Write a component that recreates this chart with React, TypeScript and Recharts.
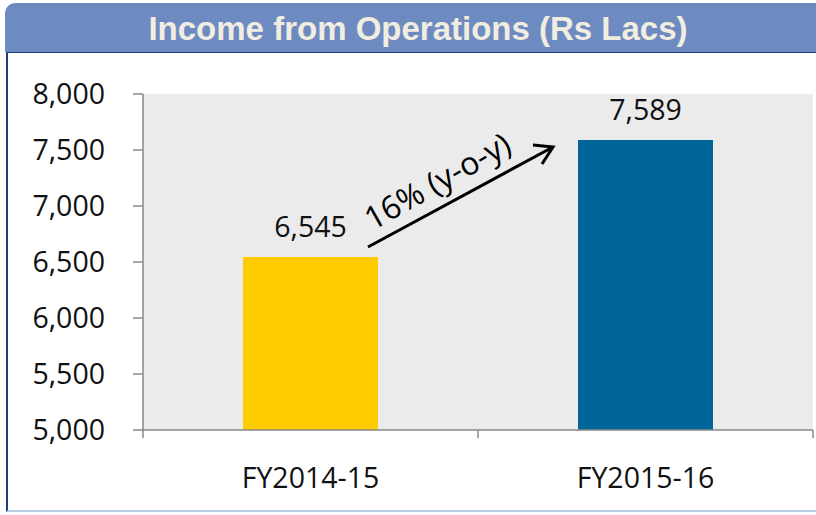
import React from 'react';
import { BarChart, Bar, XAxis, YAxis, CartesianGrid, Cell, LabelList } from 'recharts';

const categories = ['FY2014-15', 'FY2015-16'];
const income = [6545, 7589];
const barColors = ['#ffcc00', '#006699'];
const yTicks = [5000, 5500, 6000, 6500, 7000, 7500, 8000];
const growthLabel = '16% (y-o-y)';

const data = categories.map((c, i) => ({ name: c, value: income[i] }));

const W = 816;
const H = 515;
const M = { top: 94, right: 3, bottom: 0, left: 0 };
const Y_W = 143;
const X_H = 85;
const band = (W - M.left - M.right - Y_W) / categories.length;
const font = '"Open Sans", "Noto Sans", sans-serif';

const fmt = (v: number) => v.toLocaleString('en-US');

function XTick(props: any) {
  const { x, y, payload, index } = props;
  return (
    <g>
      <line x1={x - band / 2} x2={x - band / 2} y1={y} y2={y + 8} stroke="#888" strokeWidth={1.5} />
      {index === categories.length - 1 && (
        <line x1={x + band / 2} x2={x + band / 2} y1={y} y2={y + 8} stroke="#888" strokeWidth={1.5} />
      )}
      <text x={x} y={y + 58} textAnchor="middle" fontSize={28.5} fontFamily={font} fill="#111">
        {payload.value}
      </text>
    </g>
  );
}

export default function App() {
  return (
    <div style={{ position: 'fixed', left: 0, top: 0, width: W, height: H, background: '#fff', overflow: 'hidden' }}>
      <div
        style={{
          position: 'absolute', left: 5, top: 3, width: W, height: 49,
          background: '#6e8bc1', borderTopLeftRadius: 10,
        }}
      >
        <span
          style={{
            position: 'absolute', left: 0, top: 0, width: 826, textAlign: 'center',
            color: '#f1ede0', fontFamily: '"Liberation Sans", Arial, sans-serif', fontWeight: 'bold',
            fontSize: 33, lineHeight: '52px',
          }}
        >
          Income from Operations (Rs Lacs)
        </span>
      </div>
      <div
        style={{
          position: 'absolute', left: 6, top: 52, width: W, height: 460,
          borderLeft: '2px solid #1f3f7a', borderTop: '1px solid #1f3f7a', borderBottom: '2px solid #b8cce4',
          boxSizing: 'border-box',
        }}
      />
      <div style={{ position: 'absolute', left: 0, top: 0 }}>
        <BarChart width={W} height={H} data={data} margin={M}>
          <CartesianGrid horizontal={false} vertical={false} fill="#ebebeb" />
          <YAxis
            type="number"
            domain={[5000, 8000]}
            ticks={yTicks}
            width={Y_W}
            tickFormatter={fmt}
            tickSize={10}
            tickMargin={28}
            axisLine={{ stroke: '#888', strokeWidth: 1.5 }}
            tickLine={{ stroke: '#888', strokeWidth: 1.5 }}
            tick={{ fontSize: 28.5, fontFamily: font, fill: '#111' }}
            allowDataOverflow
          />
          <XAxis
            dataKey="name"
            height={X_H}
            tickLine={false}
            tickSize={0}
            tickMargin={0}
            axisLine={{ stroke: '#888', strokeWidth: 1.5 }}
            tick={<XTick />}
          />
          <Bar dataKey="value" barSize={135} isAnimationActive={false}>
            {data.map((d, i) => (
              <Cell key={d.name} fill={barColors[i]} />
            ))}
            <LabelList dataKey="value" position="top" offset={20} formatter={(v: any) => fmt(Number(v))}
              style={{ fontSize: 28.5, fontFamily: font, fill: '#111' }} />
          </Bar>
        </BarChart>
      </div>
      <svg width={W} height={H} style={{ position: 'absolute', left: 0, top: 0, pointerEvents: 'none' }}>
        <line x1={368} y1={247} x2={553} y2={147} stroke="#000" strokeWidth={3} />
        <polyline points="533,145 553,147 542,164" fill="none" stroke="#000" strokeWidth={3} />
        <text
          x={443} y={191}
          transform="rotate(-29.5 443 191)"
          textAnchor="middle"
          fontSize={32}
          fontFamily={font}
          fill="#000"
        >
          {growthLabel}
        </text>
      </svg>
    </div>
  );
}
